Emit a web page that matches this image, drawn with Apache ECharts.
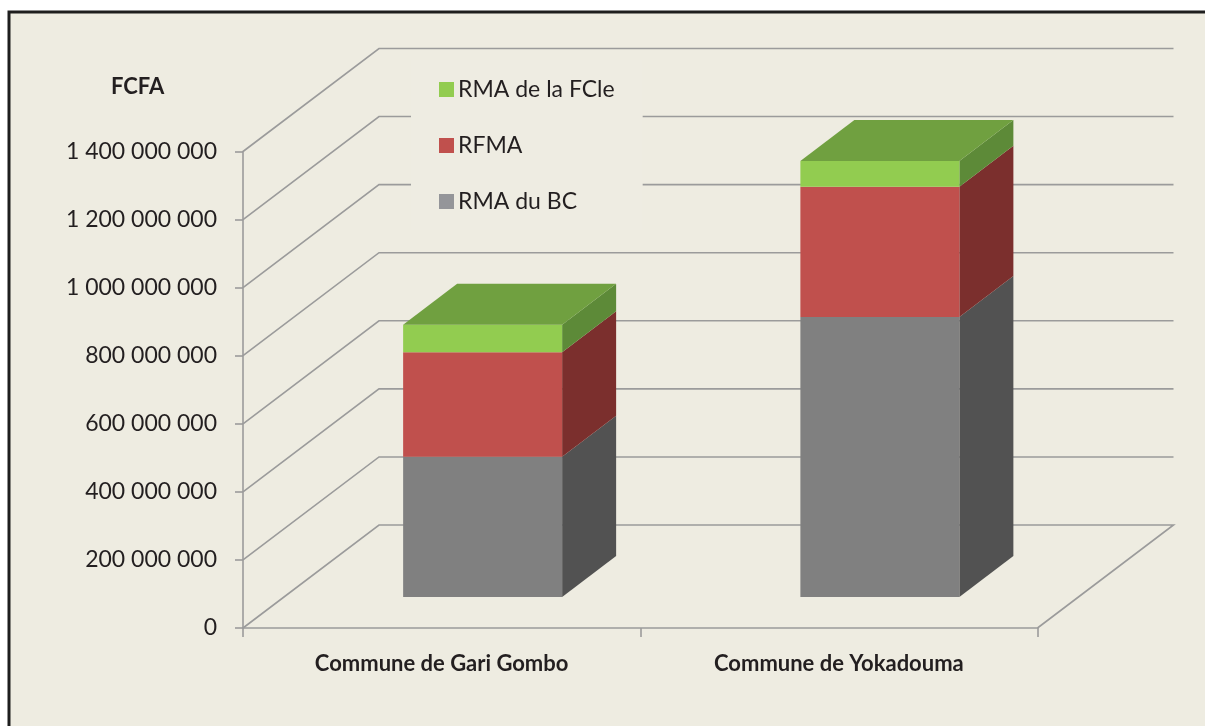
<!DOCTYPE html>
<html>
<head>
<meta charset="utf-8">
<style>html,body{margin:0;padding:0;background:#fff}#c{width:1205px;height:726px}</style>
<script src="https://cdn.jsdelivr.net/npm/echarts@6/dist/echarts.min.js"></script>
</head>
<body>
<div id="c"></div>
<script>
var categories = ['Commune de Gari Gombo', 'Commune de Yokadouma'];
var rmaBC = [412000000, 823000000];
var rfma = [307000000, 382000000];
var rmaFCle = [81000000, 76000000];
var yTicks = [0, 200000000, 400000000, 600000000, 800000000, 1000000000, 1200000000, 1400000000];
var yTickLabels = ['0', '200 000 000', '400 000 000', '600 000 000', '800 000 000', '1 000 000 000', '1 200 000 000', '1 400 000 000'];
var legendNames = ['RMA de la FCle', 'RFMA', 'RMA du BC'];
var unitLabel = 'FCFA';

var FONT = 'Lato';
var TEXT = '#231f20';
var GRID = '#9b9b9b';
var BG = '#eeece1';
var WALL_DX = 136, WALL_DY = -103;
var SHIFT_X = 41, SHIFT_Y = -31;
var BAR_W = 159, SIDE_DX = 54, SIDE_DY = -41;

function stackData(vals, base) {
  return vals.map(function (v, i) { return [i, base[i], base[i] + v]; });
}
var b0 = [0, 0];
var b1 = rmaBC.map(function (v, i) { return v + b0[i]; });
var b2 = rfma.map(function (v, i) { return v + b1[i]; });

function barRenderer(front, side, top) {
  return function (params, api) {
    var i = api.value(0);
    var p0 = api.coord([i, api.value(1)]);
    var p1 = api.coord([i, api.value(2)]);
    var xL = p0[0] + SHIFT_X - BAR_W / 2, xR = xL + BAR_W;
    var yB = p0[1] + SHIFT_Y, yT = p1[1] + SHIFT_Y;
    var kids = [
      { type: 'polygon', shape: { points: [[xR, yB], [xR + SIDE_DX, yB + SIDE_DY], [xR + SIDE_DX, yT + SIDE_DY], [xR, yT]] }, style: { fill: side } },
      { type: 'rect', shape: { x: xL, y: yT, width: BAR_W, height: yB - yT }, style: { fill: front } }
    ];
    if (top) {
      kids.push({ type: 'polygon', shape: { points: [[xL, yT], [xL + SIDE_DX, yT + SIDE_DY], [xR + SIDE_DX, yT + SIDE_DY], [xR, yT]] }, style: { fill: top } });
    }
    return { type: 'group', children: kids };
  };
}

function wallRenderer(params, api) {
  var cs = params.coordSys;
  var v = api.value(0);
  var y = api.coord([0, v])[1];
  var x0 = cs.x, x1 = cs.x + cs.width;
  var pts = [[x0, y], [x0 + WALL_DX, y + WALL_DY], [x1 + WALL_DX, y + WALL_DY]];
  if (v === 0) { pts.push([x1, y]); }
  return { type: 'polyline', shape: { points: pts }, style: { stroke: GRID, lineWidth: 1.6, fill: null } };
}

var chart = echarts.init(document.getElementById('c'), null, { renderer: 'canvas' });
chart.setOption({
  animation: false,
  backgroundColor: '#ffffff',
  textStyle: { fontFamily: FONT },
  graphic: [{
    type: 'rect', z: -10,
    shape: { x: 9, y: 12, width: 1400, height: 900 },
    style: { fill: BG, stroke: '#1e1e1e', lineWidth: 3 }
  }],
  title: {
    text: unitLabel, left: 106, top: 71,
    textStyle: { fontFamily: FONT, fontSize: 22, fontWeight: 'bold', color: TEXT }
  },
  legend: {
    data: legendNames, orient: 'vertical', left: 411, top: 60,
    backgroundColor: '#eeece2',
    padding: [18, 28, 17, 28],
    itemWidth: 15, itemHeight: 15, itemGap: 33,
    icon: 'rect', selectedMode: false, z: 10,
    textStyle: { fontFamily: FONT, fontSize: 23, color: TEXT, padding: [0, 0, 0, -1] }
  },
  grid: { left: 243, top: 151.5, width: 794.5, height: 476.5, containLabel: false },
  xAxis: {
    type: 'category', data: categories, boundaryGap: true,
    axisLine: { show: true, lineStyle: { color: GRID, width: 1.6 } },
    axisTick: { show: true, length: 9, alignWithLabel: false, lineStyle: { color: GRID, width: 1.6 } },
    axisLabel: { margin: 25, fontFamily: FONT, fontSize: 22, fontWeight: 'bold', color: TEXT, interval: 0 },
    splitLine: { show: false }
  },
  yAxis: {
    type: 'value', min: 0, max: 1400000000, interval: 200000000,
    axisLine: { show: true, lineStyle: { color: GRID, width: 1.6 } },
    axisTick: { show: true, length: 8, lineStyle: { color: GRID, width: 1.6 } },
    axisLabel: {
      margin: 26, fontFamily: FONT, fontSize: 23, color: TEXT,
      formatter: function (v) { return yTickLabels[yTicks.indexOf(v)]; }
    },
    splitLine: { show: false }
  },
  series: [
    { type: 'custom', name: 'walls', z: 1, clip: false, silent: true, coordinateSystem: 'cartesian2d',
      renderItem: wallRenderer, data: yTicks.map(function (v) { return [v]; }), encode: { y: 0 } },
    { type: 'custom', name: legendNames[2], z: 3, clip: false, coordinateSystem: 'cartesian2d',
      itemStyle: { color: '#949599' }, renderItem: barRenderer('#808080', '#525252', null),
      data: stackData(rmaBC, b0), encode: { x: 0, y: [1, 2] } },
    { type: 'custom', name: legendNames[1], z: 3, clip: false, coordinateSystem: 'cartesian2d',
      itemStyle: { color: '#c0504d' }, renderItem: barRenderer('#c0504d', '#7b2f2d', null),
      data: stackData(rfma, b1), encode: { x: 0, y: [1, 2] } },
    { type: 'custom', name: legendNames[0], z: 3, clip: false, coordinateSystem: 'cartesian2d',
      itemStyle: { color: '#92cc50' }, renderItem: barRenderer('#92cc50', '#5d8a38', '#70a040'),
      data: stackData(rmaFCle, b2), encode: { x: 0, y: [1, 2] } }
  ]
});
</script>
</body>
</html>
